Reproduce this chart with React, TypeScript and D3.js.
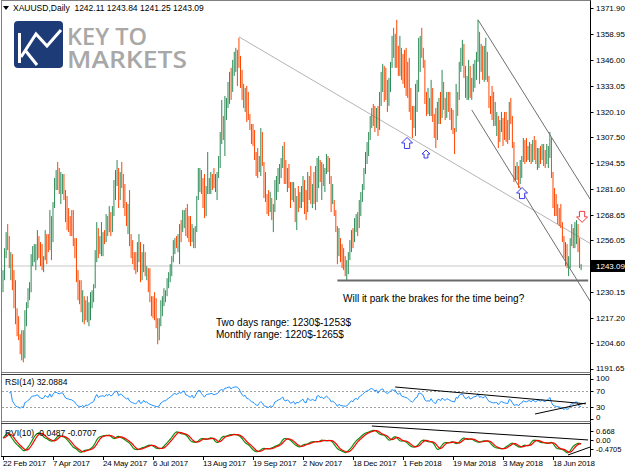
import React from 'react';
import * as d3 from 'd3';

// ---------------- DATA ----------------
const header = 'XAUUSD,Daily  1242.11 1243.84 1241.25 1243.09';
const firstOpen = 1236;

const highs = [
  1241,1252,1260,1264,1258,1250,1249,1241,1236,1222,1218,1208,1211,1211,1221,1225,1232,1235,1249,1253,
  1254,1254,1261,1258,1255,1254,1248,1261,1259,1259,1271,1262,1275,1287,1291,1295,1292,1290,1289,1289,
  1281,1278,1272,1268,1271,1271,1257,1257,1241,1236,1236,1231,1227,1226,1228,1225,1230,1231,1234,1251,
  1265,1260,1258,1265,1260,1261,1269,1268,1273,1270,1273,1286,1291,1296,1292,1290,1295,
  1289,1284,1275,1274,1281,1259,1256,1250,1250,1255,1259,1255,1250,1254,1248,1243,1242,1242,1227,1228,
  1230,1227,1217,1217,1226,1228,1232,1231,1237,1240,1244,1248,1256,1257,1258,1259,1264,1266,1271,1271,
  1272,1274,1268,1268,1264,1259,1263,1278,1292,1292,1290,1287,1289,1283,1300,1287,1290,1289,1292,1289,
  1290,1298,1310,1326,1318,1328,1327,1335,1340,1342,1346,1350,1352,1351,1357,
  1348,1341,1334,1332,1333,1330,1319,1314,1314,1311,1300,1302,1298,1312,1310,1290,1290,1279,1281,1280,
  1277,1274,1286,1288,1292,1294,1297,1303,1305,1296,1292,1294,1284,1285,1285,1282,1278,1283,1280,1283,
  1288,1286,1281,1290,1288,1293,1284,1290,1293,1297,1298,1296,1295,1294,1292,1299,1298,1297,1288,1284,
  1276,1270,1262,1262,1257,1254,1252,1248,1246,1250,1256,1261,1262,1267,1269,1270,1276,
  1280,1284,1292,1300,1305,1310,1318,1322,1324,1323,1322,1323,1330,1340,1344,1343,1342,1336,1337,1345,
  1358,1362,1359,1366,1353,1358,1347,1349,1351,1352,1345,1347,1332,1323,1323,1334,1336,1357,1358,1362,
  1350,1346,1330,1332,1327,1336,1332,1318,1322,1325,1327,1330,1341,1335,1327,1330,1330,1330,1322,1321,
  1312,1334,1330,1345,1352,1356,1354,1343,1338,1346,1341,1337,1344,1346,1350,1366,
  1359,1354,1353,1353,1357,1347,1335,1328,1333,1330,1325,1320,1317,1316,1320,1315,1320,1320,1316,1325,
  1327,1315,1297,1293,1295,1293,1296,1298,1307,1306,1307,1303,1305,1304,1306,1308,1306,1302,1302,1303,
  1304,1304,1301,1304,1303,1310,1302,1285,1282,1279,1274,1272,1274,1265,1257,1255,1254,1248,1257,1264,
  1262,1265,1266,1263,1257,1244,
];

const lows = [
  1230,1236,1247,1251,1242,1236,1231,1222,1214,1208,1206,1199,1196,1195,1197,1213,1222,1226,1230,1243,
  1245,1241,1246,1247,1243,1241,1240,1248,1244,1250,1253,1246,1258,1272,1281,1281,1279,1274,1279,1276,
  1265,1261,1260,1258,1258,1253,1247,1235,1226,1224,1220,1215,1214,1216,1215,1213,1216,1222,1225,1236,
  1245,1247,1249,1248,1248,1254,1255,1258,1260,1258,1260,1274,1276,1283,1272,1278,1282,
  1272,1268,1263,1259,1253,1247,1244,1241,1239,1240,1245,1235,1236,1240,1238,1236,1230,1225,1218,1217,
  1216,1212,1204,1206,1213,1218,1223,1225,1228,1232,1235,1238,1245,1249,1252,1250,1244,1255,1262,1262,
  1258,1257,1255,1253,1255,1252,1252,1260,1276,1280,1279,1272,1267,1268,1279,1279,1279,1281,1282,1280,
  1276,1287,1292,1304,1306,1298,1316,1322,1324,1326,1330,1338,1340,1333,1342,
  1332,1326,1322,1320,1315,1316,1311,1304,1303,1296,1288,1287,1290,1288,1293,1277,1275,1269,1268,1270,
  1266,1260,1270,1276,1280,1284,1287,1292,1284,1284,1280,1282,1272,1276,1275,1265,1261,1270,1272,1272,
  1275,1269,1266,1278,1276,1274,1272,1274,1271,1278,1282,1285,1276,1283,1280,1291,1290,1284,1270,1274,
  1268,1260,1244,1250,1245,1242,1241,1238,1236,1239,1246,1250,1252,1255,1260,1258,1264,
  1268,1275,1281,1290,1294,1298,1307,1312,1313,1310,1312,1308,1315,1323,1330,1325,1326,1320,1323,1330,
  1342,1347,1342,1342,1338,1338,1336,1334,1332,1328,1327,1320,1316,1307,1312,1308,1320,1330,1340,1347,
  1342,1324,1318,1319,1318,1318,1315,1307,1302,1313,1314,1314,1324,1321,1316,1317,1320,1316,1311,1309,
  1299,1311,1318,1326,1340,1343,1337,1327,1326,1326,1327,1326,1330,1332,1336,1346,
  1334,1340,1336,1335,1336,1335,1322,1319,1316,1313,1313,1308,1302,1305,1310,1303,1306,1305,1304,1311,
  1314,1302,1285,1286,1286,1282,1284,1287,1295,1294,1295,1296,1295,1294,1295,1296,1294,1291,1292,1294,
  1296,1293,1292,1294,1292,1297,1287,1272,1268,1268,1264,1263,1262,1255,1247,1243,1242,1238,1242,1253,
  1252,1252,1254,1250,1242,1241,
];

const closes = [
  1238,1249,1257,1254,1247,1249,1234,1226,1217,1211,1209,1202,1206,1200,1219,1222,1229,1233,1246,1250,
  1252,1253,1258,1250,1246,1243,1246,1258,1252,1251,1268,1255,1273,1285,1288,1284,1282,1287,1288,1280,
  1268,1265,1263,1261,1260,1255,1250,1238,1228,1227,1224,1228,1217,1224,1220,1223,1227,1229,1232,1248,
  1262,1250,1256,1258,1259,1256,1266,1262,1270,1264,1268,1283,1289,1292,1276,1285,1284,
  1276,1272,1266,1270,1256,1250,1247,1243,1241,1246,1254,1238,1240,1250,1240,1241,1233,1228,1224,1220,
  1218,1214,1213,1215,1223,1226,1230,1229,1235,1238,1242,1246,1254,1256,1254,1257,1262,1260,1269,1270,
  1261,1260,1257,1255,1262,1254,1261,1276,1290,1291,1282,1275,1270,1281,1284,1285,1288,1287,1284,1287,
  1289,1295,1308,1311,1309,1325,1326,1333,1336,1331,1344,1347,1350,1349,1346,
  1338,1330,1326,1329,1319,1318,1313,1307,1305,1299,1293,1290,1296,1301,1295,1281,1278,1273,1271,1275,
  1269,1272,1283,1285,1289,1291,1294,1300,1288,1286,1289,1285,1276,1278,1281,1269,1275,1273,1277,1280,
  1284,1272,1270,1286,1280,1277,1281,1278,1275,1294,1296,1289,1292,1286,1289,1297,1292,1286,1274,1276,
  1271,1263,1248,1255,1248,1246,1244,1242,1244,1247,1254,1258,1255,1264,1266,1262,1273,
  1277,1282,1289,1298,1302,1306,1316,1320,1317,1314,1320,1311,1327,1337,1341,1333,1330,1326,1334,1343,
  1355,1352,1357,1346,1342,1352,1340,1337,1335,1333,1330,1324,1318,1314,1319,1330,1333,1354,1355,1352,
  1345,1328,1322,1323,1321,1332,1319,1310,1306,1322,1325,1317,1330,1324,1318,1327,1323,1319,1314,1312,
  1310,1330,1326,1343,1348,1352,1341,1331,1334,1343,1330,1334,1340,1343,1345,1360,
  1344,1350,1342,1348,1350,1338,1325,1322,1318,1316,1317,1318,1305,1313,1317,1313,1310,1308,1306,1321,
  1318,1305,1290,1291,1292,1286,1293,1295,1303,1299,1298,1301,1302,1297,1303,1299,1296,1300,1301,1297,
  1302,1297,1295,1299,1301,1307,1290,1276,1272,1270,1268,1266,1264,1258,1250,1253,1246,1247,1255,1260,
  1258,1262,1264,1254,1242,1243,
];

const dateLabels = ['22 Feb 2017','7 Apr 2017','24 May 2017','6 Jul 2017','13 Aug 2017','19 Sep 2017',
  '2 Nov 2017','18 Dec 2017','1 Feb 2018','19 Mar 2018','3 May 2018','18 Jun 2018'];
const barsPerLabel = 32;

const priceTicks = [1371.90,1358.95,1346.00,1333.05,1320.10,1307.50,1294.55,1281.60,1268.65,1256.05,
  1230.15,1217.20,1204.60,1191.65];
const lastPrice = 1243.09;

// trend lines on price chart: [bar, price] pairs
const fallingLine = [[151, 1357.5], [380, 1252.4]];
const channelUpper = [[304, 1366], [380, 1271.2]];
const channelLower = [[300, 1321], [378, 1222.7]];
const supportLine = [[214, 1235.8], [374.5, 1235.8]];

// arrows: bar, price, direction, size
const arrowBars = [258.6, 270.7, 332.2, 370.6];
const arrowPrices = [1304.5, 1299.0, 1279.5, 1267.6];
const arrowDirs = ['up', 'up', 'up', 'down'];
const arrowSizes = [11, 8, 11, 11];

const rsiLevels = [70, 30];
const rsiTicks = ['100', '70', '30', '0'];
const rsiTickBaselines = [381, 394, 410, 420];
const rsiTrendA = [[251, 80], [373, 38]];
const rsiTrendB = [[340.5, 12.5], [373, 40]];
const rviTickLabels = ['0.668', '0.00', '-0.4705'];
const rviTickBaselines = [434, 443, 452];
const rviDomain = [-0.4705, 0.668];
const rviTrendA = [[236, 0.63], [374.5, 0.1]];
const rviTrendB = [[361.6, -0.47], [375.7, -0.17]];

const texts = ['Will it park the brakes for the time being?', 'Two days range: 1230$-1253$', 'Monthly range: 1220$-1265$'];

// ---------------- DERIVED ----------------
const N = closes.length;
const opens = closes.map((c, i) => (i === 0 ? firstOpen : closes[i - 1]));
const hi = highs.map((h, i) => Math.max(h, opens[i], closes[i]));
const lo = lows.map((l, i) => Math.min(l, opens[i], closes[i]));

function computeRSI(cl: number[], n: number) {
  const out: (number | null)[] = [null];
  let ag = 0, al = 0;
  for (let i = 1; i < cl.length; i++) {
    const ch = cl[i] - cl[i - 1];
    const g = Math.max(ch, 0), l = Math.max(-ch, 0);
    if (i <= n) { ag = (ag * (i - 1) + g) / i; al = (al * (i - 1) + l) / i; }
    else { ag = (ag * (n - 1) + g) / n; al = (al * (n - 1) + l) / n; }
    out.push(al === 0 ? 100 : 100 - 100 / (1 + ag / al));
  }
  return out;
}

function computeRVI(n: number) {
  const co = closes.map((c, i) => c - opens[i]);
  const hl = hi.map((h, i) => h - lo[i]);
  const at = (a: number[], i: number) => a[Math.max(i, 0)];
  const v1 = co.map((_, i) => (at(co, i) + 2 * at(co, i - 1) + 2 * at(co, i - 2) + at(co, i - 3)) / 6);
  const v2 = hl.map((_, i) => (at(hl, i) + 2 * at(hl, i - 1) + 2 * at(hl, i - 2) + at(hl, i - 3)) / 6);
  const main = v1.map((_, i) => {
    let a = 0, b = 0;
    for (let j = Math.max(0, i - n + 1); j <= i; j++) { a += v1[j]; b += v2[j]; }
    return b === 0 ? 0 : a / b;
  });
  const sig = main.map((_, i) => (at(main, i) + 2 * at(main, i - 1) + 2 * at(main, i - 2) + at(main, i - 3)) / 6);
  return { main, sig };
}

const rsi = computeRSI(closes, 14);
const rvi = computeRVI(10);

// ---------------- LAYOUT ----------------
const FONT = "'Liberation Sans', Arial, sans-serif";
const axisX = 590.5;
const mainTop = 1, mainBottom = 372;
const rsiTop = 375, rsiBottom = 421;
const rviTop = 424, rviBottom = 456;

function arrowPath(size: number, dir: string) {
  const h = size / 2, s = size * 0.24;
  const pts = [[0, -h], [h, 0], [s, 0], [s, h], [-s, h], [-s, 0], [-h, 0]];
  const p = dir === 'up' ? pts : pts.map(([a, b]) => [a, -b]);
  return 'M' + p.map((q) => q.join(',')).join('L') + 'Z';
}

export default function App() {
  const x = d3.scaleLinear().domain([0, N - 1]).range([3, 3 + (N - 1) * 1.5625]);
  const y = d3.scaleLinear().domain([1191.65, 1371.9]).range([369, 8]);
  const yR = d3.scaleLinear().domain([0, 100]).range([419, 379]);
  const yV = d3.scaleLinear().domain(rviDomain).range([rviBottom - 1, rviTop + 1]);

  const rsiLine = d3.line<number | null>().defined((v, i) => v !== null && i >= 4)
    .x((_, i) => x(i)).y((v) => yR(v as number));
  const rviLine = d3.line<number>().x((_, i) => x(i)).y((v) => yV(v));

  const seg = (pts: number[][], sx: any, sy: any, extra: any) => (
    <line x1={sx(pts[0][0])} y1={sy(pts[0][1])} x2={sx(pts[1][0])} y2={sy(pts[1][1])} {...extra} />
  );

  return (
    <svg width={625} height={469} viewBox="0 0 625 469"
      style={{ position: 'absolute', left: 0, top: 0, display: 'block', background: '#fff' }}
      fontFamily={FONT}>
      <defs>
        <clipPath id="mainClip"><rect x={2} y={mainTop} width={axisX - 2} height={mainBottom - mainTop} /></clipPath>
        <clipPath id="rsiClip"><rect x={2} y={rsiTop} width={axisX - 2} height={rsiBottom - rsiTop} /></clipPath>
        <clipPath id="rviClip"><rect x={2} y={rviTop} width={axisX - 2} height={rviBottom - rviTop} /></clipPath>
      </defs>
      <rect x={0} y={0} width={625} height={469} fill="#fff" />

      {/* logo */}
      <g>
        <rect x={14} y={21} width={49} height={47} rx={4} fill="#1d3c77" />
        <path d="M19.5 33 V63" stroke="#fff" strokeWidth={3} fill="none" />
        <path d="M21 57 L36 34 L47 46 L61 30" stroke="#fff" strokeWidth={3} fill="none" strokeLinejoin="miter" />
        <path d="M25 50 L37 65" stroke="#fff" strokeWidth={3} fill="none" />
        <text x={67} y={45} fontSize={23} fontFamily="'Open Sans', sans-serif" fontWeight={600} fill="#a8a8a8"
          textLength={80} lengthAdjust="spacingAndGlyphs">KEY TO</text>
        <text x={67} y={68} fontSize={24} fontFamily="'Open Sans', sans-serif" fontWeight={600} fill="#a8a8a8"
          textLength={120} lengthAdjust="spacingAndGlyphs">MARKETS</text>
      </g>

      {/* header */}
      <path d="M3 6 L9 6 L6 10 Z" fill="#000" />
      <text x={13} y={11} fontSize={8.5} fill="#000" style={{ whiteSpace: 'pre' }}>{header}</text>

      {/* main chart */}
      <g clipPath="url(#mainClip)">
        <line x1={2} x2={axisX} y1={y(lastPrice)} y2={y(lastPrice)} stroke="#c8c8c8" strokeWidth={1} />
        {seg(fallingLine, x, y, { stroke: '#b4b4b4', strokeWidth: 1 })}
        {seg(channelUpper, x, y, { stroke: '#6e6e6e', strokeWidth: 1 })}
        {seg(channelLower, x, y, { stroke: '#6e6e6e', strokeWidth: 1 })}
        {closes.map((c, i) => (
          <line key={i} x1={x(i)} x2={x(i)} y1={y(hi[i])} y2={y(lo[i])}
            stroke={c >= opens[i] ? '#2e8b57' : '#ff4500'} strokeWidth={1} />
        ))}
        {seg(supportLine, x, y, { stroke: '#6a6a6a', strokeWidth: 2 })}
        {arrowBars.map((b, i) => (
          <path key={i} d={arrowPath(arrowSizes[i], arrowDirs[i])}
            transform={`translate(${x(b)},${y(arrowPrices[i])})`}
            fill="#fff" stroke={arrowDirs[i] === 'up' ? '#3b3bf0' : '#f03b3b'} strokeWidth={1} />
        ))}
      </g>

      {/* annotation texts */}
      <text x={343} y={302} fontSize={10} fill="#000">{texts[0]}</text>
      <text x={216} y={326} fontSize={10} fill="#000">{texts[1]}</text>
      <text x={216} y={337.5} fontSize={10} fill="#000">{texts[2]}</text>

      {/* panel borders */}
      <line x1={1.5} x2={1.5} y1={0} y2={rviBottom} stroke="#808080" />
      <line x1={axisX} x2={axisX} y1={0} y2={rviBottom + 0.5} stroke="#000" />
      <line x1={1} x2={axisX} y1={0.5} y2={0.5} stroke="#808080" />
      <line x1={1} x2={axisX} y1={mainBottom + 0.5} y2={mainBottom + 0.5} stroke="#808080" strokeWidth={1} />
      <line x1={1} x2={axisX} y1={rsiTop - 0.5} y2={rsiTop - 0.5} stroke="#404040" />
      <line x1={1} x2={axisX} y1={rsiBottom + 0.5} y2={rsiBottom + 0.5} stroke="#808080" />
      <line x1={1} x2={axisX} y1={rviTop - 0.5} y2={rviTop - 0.5} stroke="#404040" />
      <line x1={1} x2={axisX} y1={rviBottom + 0.5} y2={rviBottom + 0.5} stroke="#000" />

      {/* price axis */}
      {priceTicks.map((p, i) => (
        <g key={i}>
          <line x1={axisX} x2={axisX + 3} y1={Math.round(y(p)) + 0.5} y2={Math.round(y(p)) + 0.5} stroke="#000" />
          <text x={596} y={Math.min(y(p) + 3, 371)} fontSize={8} fill="#000">{p.toFixed(2)}</text>
        </g>
      ))}
      <rect x={591} y={y(lastPrice) - 6} width={34} height={12} fill="#000" />
      <text x={596} y={y(lastPrice) + 3} fontSize={8} fill="#fff">{lastPrice.toFixed(2)}</text>

      {/* RSI panel */}
      <g clipPath="url(#rsiClip)">
        {rsiLevels.map((lv) => (
          <line key={lv} x1={2} x2={axisX} y1={Math.round(yR(lv)) + 0.5} y2={Math.round(yR(lv)) + 0.5}
            stroke="#a0a0a0" strokeDasharray="2,2" />
        ))}
        <path d={rsiLine(rsi) || ''} fill="none" stroke="#1e90ff" strokeWidth={1} />
        {seg(rsiTrendA, x, yR, { stroke: '#000', strokeWidth: 1 })}
        {seg(rsiTrendB, x, yR, { stroke: '#000', strokeWidth: 1 })}
      </g>
      <text x={5} y={385} fontSize={8.5} fill="#000">RSI(14) 32.0884</text>
      {rsiTicks.map((t, i) => (
        <g key={t}>
          <line x1={axisX} x2={axisX + 3} y1={Math.round(yR(+t)) + 0.5} y2={Math.round(yR(+t)) + 0.5} stroke="#000" />
          <text x={596} y={rsiTickBaselines[i]} fontSize={8} fill="#000">{t}</text>
        </g>
      ))}

      {/* RVI panel */}
      <g clipPath="url(#rviClip)">
        <path d={rviLine(rvi.main) || ''} fill="none" stroke="#109010" strokeWidth={1.2} />
        <path d={rviLine(rvi.sig) || ''} fill="none" stroke="#ff0000" strokeWidth={1.2} />
        {seg(rviTrendA, x, yV, { stroke: '#000', strokeWidth: 1 })}
        {seg(rviTrendB, x, yV, { stroke: '#000', strokeWidth: 1 })}
      </g>
      <text x={5} y={436} fontSize={8.5} fill="#000">RVI(10) -0.0487 -0.0707</text>
      {rviTickLabels.map((t, i) => (
        <g key={t}>
          <line x1={axisX} x2={axisX + 3} y1={rviTickBaselines[i] - 2.5} y2={rviTickBaselines[i] - 2.5} stroke="#000" />
          <text x={596} y={rviTickBaselines[i]} fontSize={7.5} fill="#000">{t}</text>
        </g>
      ))}

      {/* date axis */}
      {dateLabels.map((d, i) => {
        const xx = x(i * barsPerLabel);
        return (
          <g key={d}>
            <line x1={Math.round(xx) + 0.5} x2={Math.round(xx) + 0.5} y1={rviBottom + 0.5} y2={rviBottom + 4} stroke="#000" />
            <text x={xx} y={466} fontSize={8} letterSpacing={-0.2} fill="#000">{d}</text>
          </g>
        );
      })}
    </svg>
  );
}
